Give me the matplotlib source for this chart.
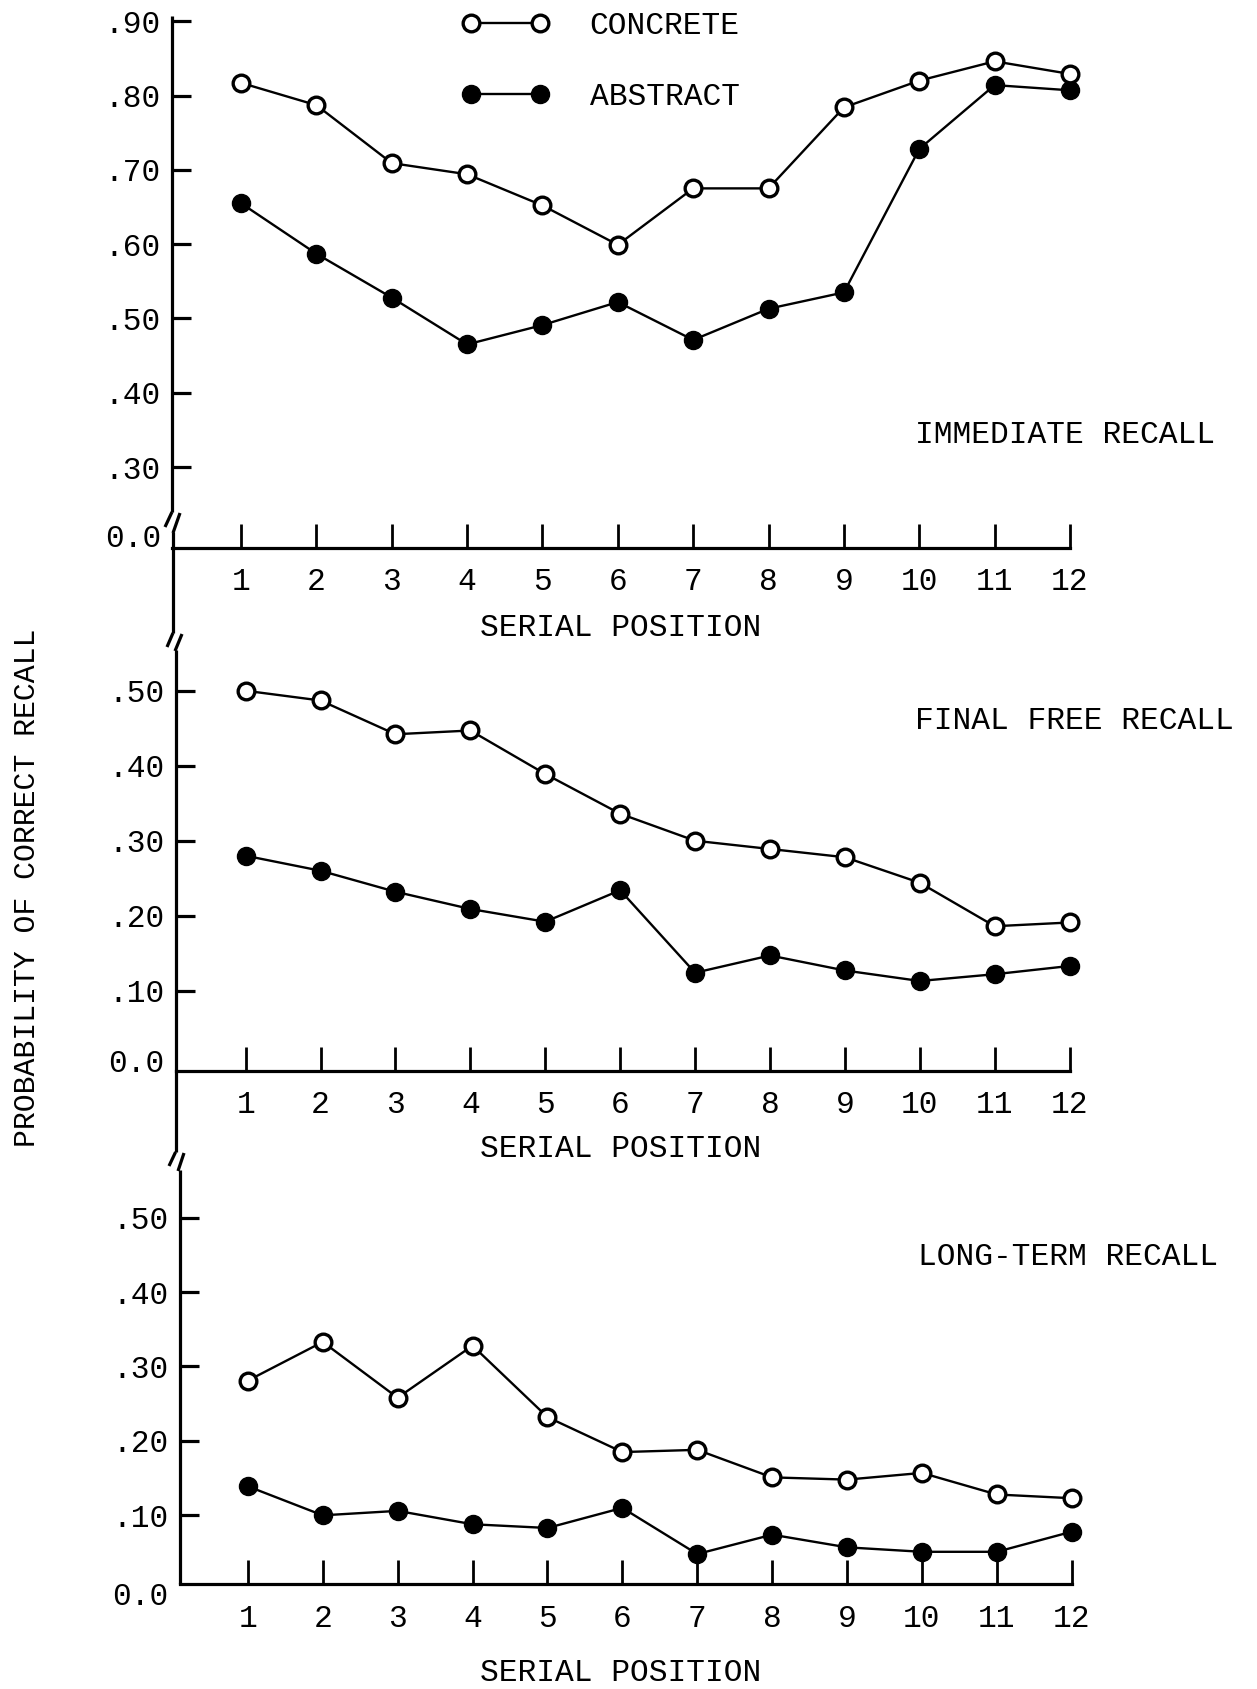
import matplotlib.pyplot as plt
from matplotlib.lines import Line2D

plt.rcParams['font.family'] = ['Liberation Mono', 'DejaVu Sans Mono']

positions = list(range(1, 13))

immediate_concrete = [.817, .787, .709, .694, .652, .599, .675, .675, .784, .820, .846, .829]
immediate_abstract = [.655, .587, .528, .465, .491, .522, .471, .513, .535, .728, .814, .807]

final_concrete = [.500, .487, .442, .447, .389, .336, .300, .289, .278, .244, .186, .191]
final_abstract = [.280, .260, .232, .209, .192, .234, .124, .147, .127, .113, .122, .133]

longterm_concrete = [.281, .333, .258, .328, .232, .185, .188, .151, .148, .157, .128, .123]
longterm_abstract = [.139, .100, .106, .088, .083, .110, .048, .074, .057, .051, .051, .078]

immediate_ticks = [.30, .40, .50, .60, .70, .80, .90]
later_ticks = [.10, .20, .30, .40, .50]

FS = 22.5
W, H = 1257, 1689
fig = plt.figure(figsize=(W / 100, H / 100), dpi=100)


def rect(left, top, right, bottom):
    return [left / W, 1 - bottom / H, (right - left) / W, (bottom - top) / H]


def fig_line(xs, ys, lw=2.3):
    fig.add_artist(Line2D([x / W for x in xs], [1 - y / H for y in ys],
                          transform=fig.transFigure, color='black', lw=lw,
                          solid_capstyle='butt'))


def tick_label(v):
    return ('%.2f' % v).lstrip('0')


panels = [
    ('IMMEDIATE RECALL', immediate_concrete, immediate_abstract, immediate_ticks,
     rect(172, 16, 1070, 548), (0.191, 0.907), (0.084, 12.0), 0.203, (915, 435), 628),
    ('FINAL FREE RECALL', final_concrete, final_abstract, later_ticks,
     rect(175.6, 648, 1069.6, 1070.6), (-0.0065, 0.557), (0.065, 12.0), 0.002, (915, 721), 1149),
    ('LONG-TERM RECALL', longterm_concrete, longterm_abstract, later_ticks,
     rect(179.9, 1170, 1071.7, 1584.4), (0.0072, 0.564), (0.093, 12.0), -0.010, (918, 1257), 1673),
]

axes = []
for title, conc, abst, yticks, r, ylim, xlim, zero_y, title_xy, xlab_y in panels:
    ax = fig.add_axes(r)
    ax.patch.set_alpha(0)
    ax.plot(positions, abst, '-o', color='black', lw=1.7, ms=13, clip_on=False, zorder=3)
    ax.plot(positions, conc, '-o', color='black', lw=1.7, ms=12, mfc='white',
            mec='black', mew=2.4, clip_on=False, zorder=4)
    ax.set_xlim(*xlim)
    ax.set_ylim(*ylim)
    for s in ['top', 'right', 'left']:
        ax.spines[s].set_visible(False)
    ax.spines['bottom'].set_linewidth(2.3)
    ax.set_xticks(positions)
    ax.tick_params(axis='x', direction='in', length=17, width=2.0, pad=14, labelsize=FS)
    ax.set_yticks(yticks, [tick_label(v) for v in yticks])
    ax.tick_params(axis='y', direction='in', length=14, width=2.3, pad=8, labelsize=FS)
    ax.annotate('0.0', xy=(0, zero_y), xycoords=ax.get_yaxis_transform(),
                xytext=(-8, 0), textcoords='offset points', ha='right', va='center',
                fontsize=FS, annotation_clip=False)
    fig.text(title_xy[0] / W, 1 - title_xy[1] / H, title, ha='left', va='center', fontsize=FS)
    fig.text(621 / W, 1 - xlab_y / H, 'SERIAL POSITION', ha='center', va='center', fontsize=FS)
    axes.append(ax)

# legend in the top panel
h_conc = Line2D([], [], color='black', lw=1.7, marker='o', ms=12, mfc='white', mec='black', mew=2.4)
h_abst = Line2D([], [], color='black', lw=1.7, marker='o', ms=13)
axes[0].legend([h_conc, h_abst], ['CONCRETE', 'ABSTRACT'], numpoints=2, frameon=False,
               fontsize=FS, handlelength=2.78, handletextpad=1.3, labelspacing=1.3,
               borderpad=0, borderaxespad=0, loc='upper left',
               bbox_to_anchor=(462 / W, 1 - 11 / H), bbox_transform=fig.transFigure)

# continuous vertical axis with break marks
fig_line([172, 172], [16, 512])
fig_line([172, 165], [512, 527])
fig_line([180, 173], [513, 533])
fig_line([173, 173], [532, 633])
fig_line([173, 167], [633, 647])
fig_line([182, 175], [634, 651])
fig_line([175.6, 175.6], [650, 1152])
fig_line([175.6, 169], [1152, 1166])
fig_line([184, 178], [1153, 1171])
fig_line([179.9, 179.9], [1170, 1584.4])

fig.text(27 / W, 1 - 888 / H, 'PROBABILITY OF CORRECT RECALL', rotation=90,
         ha='center', va='center', fontsize=21.5)

fig.savefig('out.png', dpi=100)
